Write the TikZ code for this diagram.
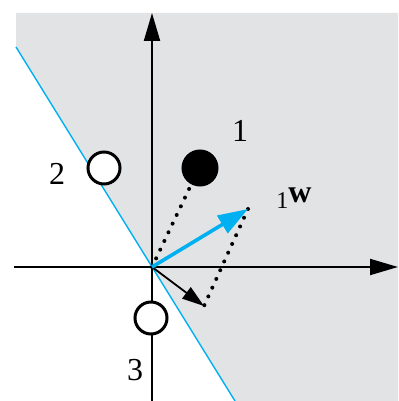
\documentclass[tikz,border=0pt]{standalone}
\usepackage{fontspec}
\setmainfont{Liberation Serif}
\usetikzlibrary{arrows.meta}
\definecolor{plane}{RGB}{226,227,229}
\definecolor{wblue}{RGB}{0,176,240}
\tikzset{
	axis/.style={line width=1pt, -{Triangle[length=14pt,width=8pt]}},
	pt/.style={circle, draw=black, line width=1.5pt, minimum size=16pt, inner sep=0pt},
	lbl/.style={font=\fontsize{16}{19}\selectfont, inner sep=0pt},
	dots/.style={line width=2pt, dash pattern=on 0pt off 4.8pt, line cap=round}
}
\begin{document}
\begin{tikzpicture}[x=0.5pt,y=0.5pt]
				\useasboundingbox (0,0) rectangle (398,401);
				% half plane and boundary
				\fill[plane] (16,388) -- (398,388) -- (398,0) -- (235,0) -- (16,354) -- cycle;
				\draw[wblue, line width=0.7pt] (16,354) -- (235,0);
				
				\coordinate (o) at (152,134);
				\draw[axis] (14,134) -- (398,134);
				\draw[axis] (152,0) -- (152,388);
				
				\node[pt, fill=black, minimum size=17pt] (p1) at (200,233) {};
				\node[pt, fill=white] (p2) at (104,233) {};
				\node[pt, fill=white] (p3) at (151,83) {};
				\node[lbl] (l1) at (240,270) {1};
				\node[lbl] (l2) at (57,227) {2};
				\node[lbl] (l3) at (135,31) {3};
				
				\coordinate (wold) at (204,95);
				\coordinate (wnew) at (248,192);
				\coordinate (p1b) at (190,214);
				\draw[dots] (o) -- (p1b);
				\draw[dots] (wnew) -- (wold);
				
				\draw[line width=0.9pt, -{Triangle[length=11pt,width=7pt]}] (o) -- (wold);
				\draw[wblue, line width=1.8pt, -{Triangle[length=15pt,width=10pt]}] (o) -- (wnew);
				\node[lbl, anchor=base west] (w) at (276,198) {\raisebox{-0.4ex}{\fontsize{12}{13}\selectfont 1}\textbf{w}};
			\end{tikzpicture}
\end{document}
